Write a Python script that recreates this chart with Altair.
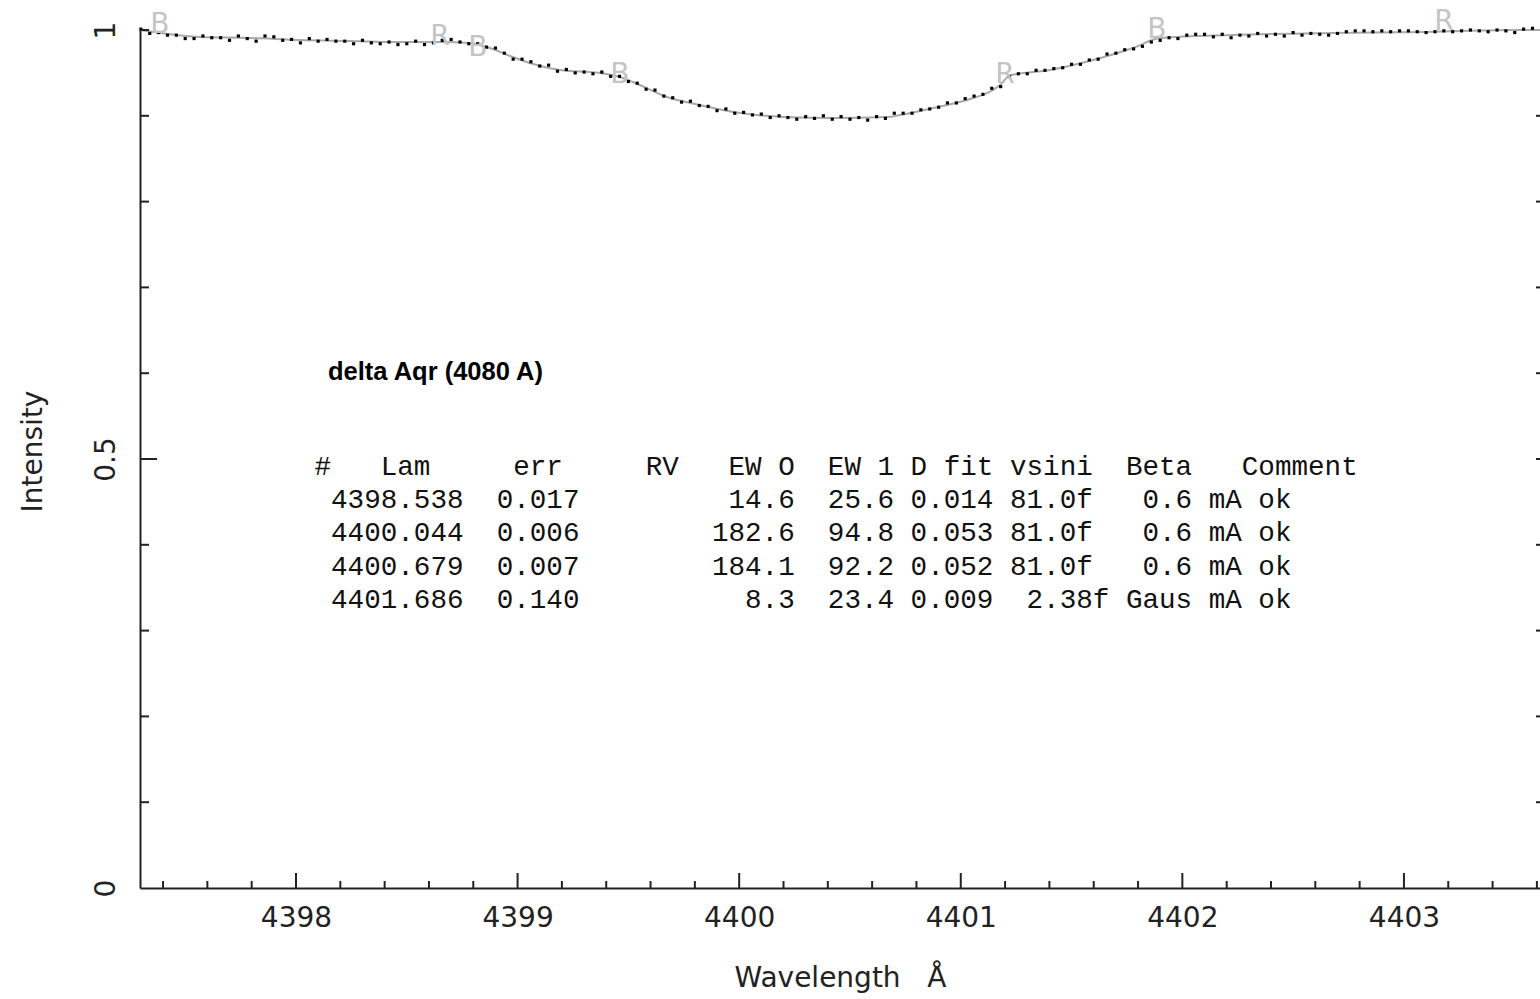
import altair as alt
import pandas as pd

# Observed spectrum: uniform 0.04 A dispersion grid and normalised flux
spec_wl = [round(4397.30 + 0.04 * i, 2) for i in range(158)]
spec_flux = [
    1.001, 0.996, 0.997, 0.994, 0.994, 0.990, 0.990, 0.993, 0.991, 0.991,
    0.988, 0.993, 0.990, 0.987, 0.993, 0.992, 0.988, 0.989, 0.985, 0.990,
    0.987, 0.989, 0.987, 0.987, 0.984, 0.988, 0.985, 0.984, 0.986, 0.983,
    0.984, 0.987, 0.983, 0.985, 0.988, 0.989, 0.986, 0.984, 0.984, 0.980,
    0.979, 0.973, 0.966, 0.966, 0.963, 0.958, 0.959, 0.952, 0.954, 0.950,
    0.951, 0.949, 0.951, 0.946, 0.946, 0.940, 0.938, 0.931, 0.930, 0.923,
    0.921, 0.916, 0.917, 0.912, 0.911, 0.906, 0.908, 0.903, 0.904, 0.901,
    0.902, 0.898, 0.900, 0.898, 0.896, 0.899, 0.897, 0.900, 0.896, 0.899,
    0.896, 0.898, 0.895, 0.899, 0.897, 0.903, 0.903, 0.903, 0.907, 0.908,
    0.910, 0.915, 0.915, 0.920, 0.923, 0.925, 0.932, 0.934, 0.946, 0.949,
    0.949, 0.953, 0.953, 0.955, 0.956, 0.960, 0.960, 0.965, 0.966, 0.972,
    0.973, 0.977, 0.978, 0.981, 0.986, 0.988, 0.991, 0.990, 0.994, 0.995,
    0.995, 0.992, 0.995, 0.991, 0.994, 0.993, 0.996, 0.993, 0.995, 0.993,
    0.997, 0.994, 0.996, 0.995, 0.994, 0.996, 0.998, 0.999, 0.999, 0.998,
    0.999, 0.998, 0.999, 0.999, 0.998, 0.997, 0.998, 0.999, 0.998, 0.999,
    1.000, 0.999, 0.998, 1.000, 0.999, 0.997, 1.001, 1.002,
]

# Fitted profile (sum of line components)
fit_wl = [4397.296, 4397.386, 4397.567, 4397.792, 4398.018, 4398.244, 4398.469,
          4398.650, 4398.785, 4398.875, 4398.966, 4399.056, 4399.191, 4399.372,
          4399.462, 4399.521, 4399.674, 4399.823, 4400.004, 4400.198, 4400.423,
          4400.667, 4400.726, 4400.875, 4401.028, 4401.145, 4401.177, 4401.222,
          4401.403, 4401.597, 4401.777, 4401.899, 4402.228, 4402.680, 4403.104,
          4403.492, 4403.614]
fit_flux = [1.000, 0.9965, 0.9918, 0.9907, 0.9883, 0.9872, 0.9860,
            0.9860, 0.9848, 0.9790, 0.9697, 0.9615, 0.9534, 0.9499,
            0.9452, 0.9394, 0.9219, 0.9126, 0.9033, 0.8986, 0.8974,
            0.8986, 0.9009, 0.9091, 0.9184, 0.9301, 0.9359, 0.9471,
            0.9534, 0.9650, 0.9790, 0.9907, 0.9942, 0.9965, 0.9977,
            1.000, 1.000]

# Blue / red window markers of the line fits
mark_wl = [4397.386, 4398.650, 4398.821, 4399.462, 4401.200, 4401.885, 4403.181]
mark_flux = [1.006, 0.992, 0.979, 0.948, 0.948, 1.000, 1.009]
mark_txt = ["B", "R", "B", "B", "R", "B", "R"]

x_labels = [4398, 4399, 4400, 4401, 4402, 4403]
y_labels = [0, 0.5, 1]
x_minor = [round(4397.4 + 0.2 * i, 1) for i in range(32)]
x_minor = [v for v in x_minor if abs(v - round(v)) > 1e-6]
y_minor = [0.1, 0.2, 0.3, 0.4, 0.6, 0.7, 0.8, 0.9, 1.0]
y_major = [0.5]

title_text = "delta Aqr (4080 A)"
table_header = "#   Lam     err     RV   EW O  EW 1 D fit vsini  Beta   Comment"
table_rows = [
    "4398.538  0.017         14.6  25.6 0.014 81.0f   0.6 mA ok",
    "4400.044  0.006        182.6  94.8 0.053 81.0f   0.6 mA ok",
    "4400.679  0.007        184.1  92.2 0.052 81.0f   0.6 mA ok",
    "4401.686  0.140          8.3  23.4 0.009  2.38f Gaus mA ok",
]
NBSP = "\u00a0"  # keeps the fixed-width columns from collapsing in SVG

W, H = 1400, 858
X_DOM = [4397.296, 4403.614]
xs = alt.Scale(domain=X_DOM, nice=False, zero=False)
ys = alt.Scale(domain=[0, 1], nice=False, zero=False)
INK = "#222222"
FONT = "DejaVu Sans"
MONO_SIZE = 27.6
CHAR_W = MONO_SIZE * 0.6
LINE_H = 33.2

spec = pd.DataFrame({"wl": spec_wl, "flux": spec_flux})
fit = pd.DataFrame({"wl": fit_wl, "flux": fit_flux})
marks = pd.DataFrame({"wl": mark_wl, "flux": mark_flux, "t": mark_txt})

x_axis = alt.Axis(values=x_labels, format="d", ticks=False, grid=False,
                  labelPadding=16, labelFontSize=28, labelFont=FONT,
                  labelColor=INK, domainColor=INK, domainWidth=2,
                  title="Wavelength" + NBSP * 3 + "Å", titleFont=FONT,
                  titleFontSize=28, titleFontWeight="normal", titleColor=INK,
                  titleX=W / 2, titleY=90, titleBaseline="middle",
                  titleAlign="center")
y_axis = alt.Axis(values=y_labels, format="~g", ticks=False, grid=False,
                  labelAngle=-90, labelAlign="center", labelBaseline="bottom",
                  labelPadding=20, labelFontSize=28, labelFont=FONT,
                  labelColor=INK, domainColor=INK, domainWidth=2,
                  title="Intensity", titleFont=FONT, titleFontSize=28,
                  titleFontWeight="normal", titleColor=INK, titleX=-107,
                  titleY=H / 2 - 8, titleAngle=-90, titleBaseline="middle",
                  titleAlign="center")

fit_line = alt.Chart(fit).mark_line(color="#a9a9a9", strokeWidth=2,
                                    interpolate="monotone").encode(
    x=alt.X("wl:Q", scale=xs, axis=x_axis),
    y=alt.Y("flux:Q", scale=ys, axis=y_axis),
)

dots = alt.Chart(spec).mark_square(size=10, color="black", opacity=1).encode(
    x=alt.X("wl:Q", scale=xs), y=alt.Y("flux:Q", scale=ys))

win_marks = alt.Chart(marks).mark_text(font=FONT, fontSize=28, color="#c4c4c4",
                                       baseline="middle").encode(
    x=alt.X("wl:Q", scale=xs), y=alt.Y("flux:Q", scale=ys), text="t:N")

# inward-pointing ticks
xt_minor = alt.Chart(pd.DataFrame({"v": x_minor})).mark_rule(
    color=INK, strokeWidth=2).encode(
    x=alt.X("v:Q", scale=xs), y=alt.value(H), y2=alt.value(H - 7))
xt_major = alt.Chart(pd.DataFrame({"v": x_labels})).mark_rule(
    color=INK, strokeWidth=2).encode(
    x=alt.X("v:Q", scale=xs), y=alt.value(H), y2=alt.value(H - 15))
yt_minor = alt.Chart(pd.DataFrame({"v": y_minor})).mark_rule(
    color=INK, strokeWidth=2).encode(
    y=alt.Y("v:Q", scale=ys), x=alt.value(0), x2=alt.value(9))
yt_major = alt.Chart(pd.DataFrame({"v": y_major})).mark_rule(
    color=INK, strokeWidth=2).encode(
    y=alt.Y("v:Q", scale=ys), x=alt.value(0), x2=alt.value(17))
yt_right = alt.Chart(pd.DataFrame({"v": y_minor[:-1] + y_major})).mark_rule(
    color=INK, strokeWidth=2).encode(
    y=alt.Y("v:Q", scale=ys), x=alt.value(W - 4), x2=alt.value(W))

title_mark = alt.Chart(pd.DataFrame({"t": [title_text]})).mark_text(
    font="Liberation Sans", fontWeight="bold", fontSize=25.5, color="black",
    align="left", baseline="alphabetic").encode(
    x=alt.value(188), y=alt.value(350), text="t:N")

TABLE_X = 174.5
TABLE_Y = 445
header_mark = alt.Chart(pd.DataFrame({"t": [table_header.replace(" ", NBSP)]})).mark_text(
    font="Liberation Mono", fontSize=MONO_SIZE, color="#111111", align="left",
    baseline="alphabetic").encode(
    x=alt.value(TABLE_X), y=alt.value(TABLE_Y), text="t:N")

rows_df = pd.DataFrame({
    "t": [r.replace(" ", NBSP) for r in table_rows],
    "py": [TABLE_Y + LINE_H * (i + 1) for i in range(len(table_rows))],
})
rows_mark = alt.Chart(rows_df).mark_text(
    font="Liberation Mono", fontSize=MONO_SIZE, color="#111111", align="left",
    baseline="alphabetic").encode(
    x=alt.value(TABLE_X + CHAR_W), y=alt.Y("py:Q", scale=None), text="t:N")

chart = alt.layer(
    fit_line, dots, win_marks, xt_minor, xt_major, yt_minor, yt_major,
    yt_right, title_mark, header_mark, rows_mark,
).properties(
    width=W, height=H, autosize="none",
    padding={"left": 140, "top": 30, "right": 0, "bottom": 111},
    background="white",
).configure_view(stroke=None)

chart.save("out.html", embed_options={"renderer": "svg", "actions": False})
